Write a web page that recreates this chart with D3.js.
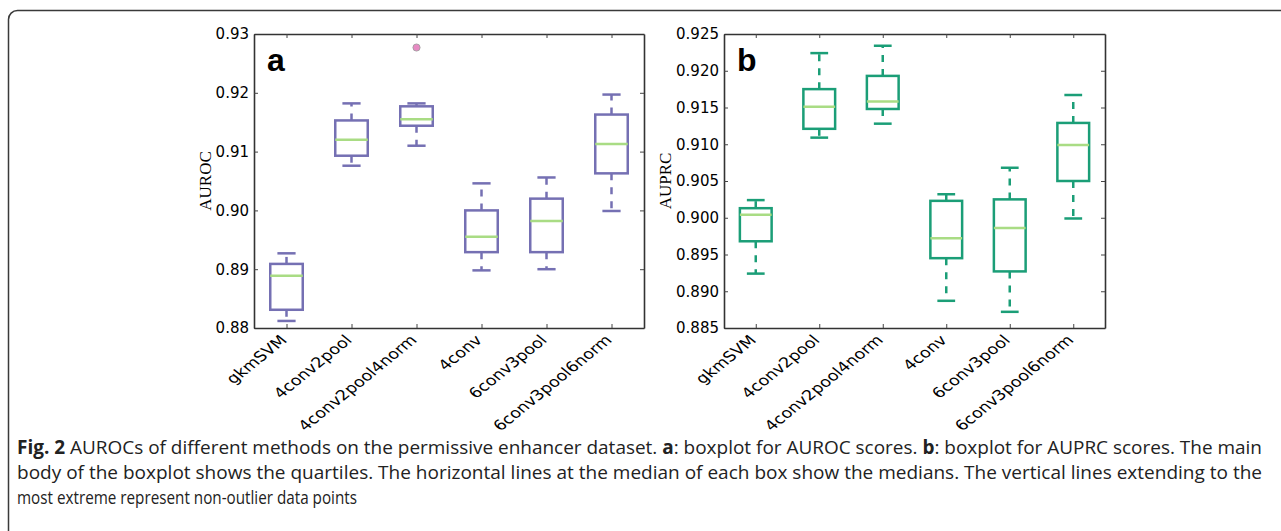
<!DOCTYPE html>
<html>
<head>
<meta charset="utf-8">
<script src="https://cdn.jsdelivr.net/npm/d3@7"></script>
<style>
  body { margin: 0; background: #fff; }
  svg { display: block; }
</style>
</head>
<body>
<svg id="fig" width="1281" height="531"></svg>
<script>
// box plot summaries
var methods = ['gkmSVM', '4conv2pool', '4conv2pool4norm', '4conv', '6conv3pool', '6conv3pool6norm'];

var aurocLow  = [0.8812, 0.9076, 0.9110, 0.8898, 0.8900, 0.8999];
var aurocQ1   = [0.8831, 0.9093, 0.9144, 0.8929, 0.8929, 0.9063];
var aurocMed  = [0.8889, 0.9120, 0.9155, 0.8955, 0.8982, 0.9113];
var aurocQ3   = [0.8909, 0.9153, 0.9177, 0.9000, 0.9020, 0.9163];
var aurocHigh = [0.8927, 0.9182, 0.9182, 0.9046, 0.9056, 0.9197];
var aurocOutliers = [[2, 0.9277]];
var aurocTicks = [0.88, 0.89, 0.90, 0.91, 0.92, 0.93];

var auprcLow  = [0.8924, 0.9109, 0.9128, 0.8887, 0.8872, 0.8999];
var auprcQ1   = [0.8968, 0.9121, 0.9148, 0.8945, 0.8927, 0.9050];
var auprcMed  = [0.9004, 0.9151, 0.9158, 0.8972, 0.8986, 0.9099];
var auprcQ3   = [0.9013, 0.9175, 0.9193, 0.9023, 0.9025, 0.9129];
var auprcHigh = [0.9024, 0.9224, 0.9234, 0.9032, 0.9068, 0.9167];
var auprcOutliers = [];
var auprcTicks = [0.885, 0.890, 0.895, 0.900, 0.905, 0.910, 0.915, 0.920, 0.925];

var svg = d3.select('#fig');

// outer frame of the figure
svg.append('rect').attr('x', 8.5).attr('y', 10.5).attr('width', 1300).attr('height', 560)
    .attr('rx', 9).attr('fill', 'none').attr('stroke', '#3a3a3a').attr('stroke-width', 1.5);

function drawPanel(opt) {
    var x = d3.scaleLinear().domain([0.5, methods.length + 0.5]).range([opt.left, opt.right]);
    var y = d3.scaleLinear().domain(opt.domain).range([328, 34]);
    var fmt = d3.format(opt.fmt);
    var g = svg.append('g');

    var rows = methods.map(function(m, i) {
        return { name: m, pos: i + 1, low: opt.low[i], q1: opt.q1[i], med: opt.med[i], q3: opt.q3[i], high: opt.high[i] };
    });
    var bw = x(1.25) - x(1);   // half box width
    var cw = x(1.14) - x(1);   // half cap width

    var boxes = g.selectAll('g.box').data(rows).enter().append('g').attr('class', 'box');
    // whiskers
    boxes.append('line')
        .attr('x1', function(d) { return x(d.pos); }).attr('x2', function(d) { return x(d.pos); })
        .attr('y1', function(d) { return y(d.q3); }).attr('y2', function(d) { return y(d.high); })
        .attr('stroke', opt.color).attr('stroke-width', 2.5).attr('stroke-dasharray', '7,7');
    boxes.append('line')
        .attr('x1', function(d) { return x(d.pos); }).attr('x2', function(d) { return x(d.pos); })
        .attr('y1', function(d) { return y(d.q1); }).attr('y2', function(d) { return y(d.low); })
        .attr('stroke', opt.color).attr('stroke-width', 2.5).attr('stroke-dasharray', '7,7');
    // caps
    ['low', 'high'].forEach(function(k) {
        boxes.append('line')
            .attr('x1', function(d) { return x(d.pos) - cw; }).attr('x2', function(d) { return x(d.pos) + cw; })
            .attr('y1', function(d) { return y(d[k]); }).attr('y2', function(d) { return y(d[k]); })
            .attr('stroke', opt.color).attr('stroke-width', 2.5);
    });
    // box
    boxes.append('rect')
        .attr('x', function(d) { return x(d.pos) - bw; })
        .attr('y', function(d) { return y(d.q3); })
        .attr('width', 2 * bw)
        .attr('height', function(d) { return y(d.q1) - y(d.q3); })
        .attr('fill', 'none').attr('stroke', opt.color).attr('stroke-width', 2.5);
    // median
    boxes.append('line')
        .attr('x1', function(d) { return x(d.pos) - bw; }).attr('x2', function(d) { return x(d.pos) + bw; })
        .attr('y1', function(d) { return y(d.med); }).attr('y2', function(d) { return y(d.med); })
        .attr('stroke', '#a9dc84').attr('stroke-width', 2.5);
    // outliers
    g.selectAll('circle.out').data(opt.outliers).enter().append('circle')
        .attr('cx', function(d) { return x(d[0] + 1); })
        .attr('cy', function(d) { return y(d[1]); })
        .attr('r', 3.6).attr('fill', '#e78ac3').attr('stroke', '#999').attr('stroke-width', 0.8);

    // axes, ticks pointing inward on all four sides
    var axL = g.append('g').attr('transform', 'translate(' + opt.left + ',0)')
        .call(d3.axisLeft(y).tickValues(opt.ticks).tickFormat(fmt).tickSize(-4).tickSizeOuter(0).tickPadding(5));
    g.append('g').attr('transform', 'translate(' + opt.right + ',0)')
        .call(d3.axisRight(y).tickValues(opt.ticks).tickFormat('').tickSize(-4).tickSizeOuter(0));
    g.append('g').attr('transform', 'translate(0,34)')
        .call(d3.axisTop(x).tickValues(d3.range(1, methods.length + 1)).tickFormat('').tickSize(-4).tickSizeOuter(0));
    var axB = g.append('g').attr('transform', 'translate(0,328)')
        .call(d3.axisBottom(x).tickValues(d3.range(1, methods.length + 1)).tickFormat(function(d) { return methods[d - 1]; })
            .tickSize(-4).tickSizeOuter(0));
    g.selectAll('.domain').attr('stroke', '#333').attr('stroke-width', 1.6);
    g.selectAll('.tick line').attr('stroke', '#444').attr('stroke-width', 1);
    axL.selectAll('text').attr('font-family', 'DejaVu Sans').attr('font-size', 15).attr('fill', '#000');
    // the source figure was stretched sideways, so the 45 degree labels come out sheared
    axB.selectAll('text')
        .attr('font-family', 'DejaVu Sans').attr('font-size', 14.2).attr('fill', '#000')
        .attr('text-anchor', 'end').attr('dy', null).attr('y', 0)
        .attr('transform', 'translate(1,13) scale(1.24,1) rotate(-45)');

    // y label
    g.append('text')
        .attr('transform', 'translate(' + opt.labelX + ',181) rotate(-90)')
        .attr('text-anchor', 'middle').attr('font-family', 'Liberation Serif').attr('font-size', 17)
        .text(opt.label);
    // panel letter
    g.append('text').attr('x', opt.left + 13).attr('y', 71)
        .attr('font-family', 'Liberation Sans').attr('font-weight', 'bold').attr('font-size', 32)
        .text(opt.letter);
}

drawPanel({ left: 254, right: 644, domain: [0.88, 0.93], ticks: aurocTicks, fmt: '.2f',
    low: aurocLow, q1: aurocQ1, med: aurocMed, q3: aurocQ3, high: aurocHigh, outliers: aurocOutliers,
    color: '#7570b3', label: 'AUROC', labelX: 211, letter: 'a' });
drawPanel({ left: 724, right: 1105, domain: [0.885, 0.925], ticks: auprcTicks, fmt: '.3f',
    low: auprcLow, q1: auprcQ1, med: auprcMed, q3: auprcQ3, high: auprcHigh, outliers: auprcOutliers,
    color: '#1b9e77', label: 'AUPRC', labelX: 671, letter: 'b' });

// caption, a condensed sans squeezed to the measured line widths
var cap = svg.append('g').attr('font-family', '"Open Sans", sans-serif').attr('font-size', 19).attr('fill', '#222');
var l1 = cap.append('text').attr('x', 17).attr('y', 454).attr('textLength', 1245).attr('lengthAdjust', 'spacingAndGlyphs');
l1.append('tspan').attr('font-weight', 'bold').text('Fig. 2');
l1.append('tspan').text(' AUROCs of different methods on the permissive enhancer dataset. ');
l1.append('tspan').attr('font-weight', 'bold').text('a');
l1.append('tspan').text(': boxplot for AUROC scores. ');
l1.append('tspan').attr('font-weight', 'bold').text('b');
l1.append('tspan').text(': boxplot for AUPRC scores. The main');
cap.append('text').attr('x', 17).attr('y', 479).attr('textLength', 1245).attr('lengthAdjust', 'spacingAndGlyphs')
    .text('body of the boxplot shows the quartiles. The horizontal lines at the median of each box show the medians. The vertical lines extending to the');
cap.append('text').attr('x', 17).attr('y', 504).attr('textLength', 340).attr('lengthAdjust', 'spacingAndGlyphs')
    .text('most extreme represent non-outlier data points');
</script>
</body>
</html>
